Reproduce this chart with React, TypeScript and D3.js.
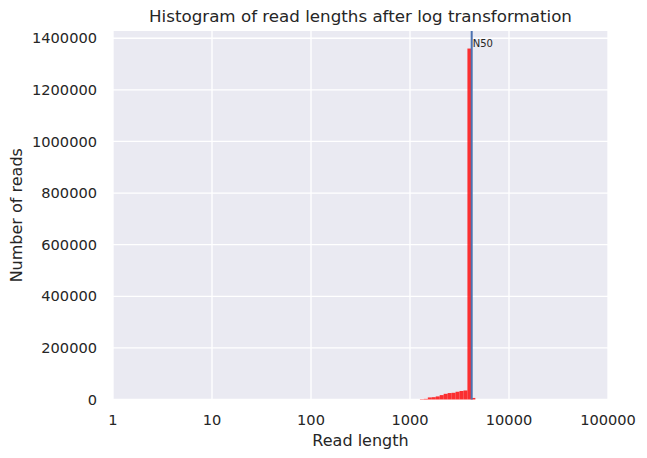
import React from "react";
import * as d3 from "d3";

const binStartsLog10 = [3.10, 3.14, 3.18, 3.22, 3.26, 3.30, 3.34, 3.38, 3.42, 3.46, 3.50, 3.54, 3.58, 3.62];
const binWidthLog10 = 0.04;
const binCounts = [1500, 2500, 8000, 9000, 12000, 17000, 22000, 25000, 26000, 30000, 33000, 35000, 1360000, 6000];
const n50Value = 4200;
const xTicks = [1, 10, 100, 1000, 10000, 100000];
const yTicks = [0, 200000, 400000, 600000, 800000, 1000000, 1200000, 1400000];

const W = 647, H = 458;
const M = { left: 113, right: 608, top: 31, bottom: 399.5 };
const FONT = "DejaVu Sans, sans-serif";
const TXT = "#262626";

export default function App() {
  const x = d3.scaleLog().domain([1, 100000]).range([M.left, M.right]);
  const yMax = d3.max(binCounts)! * 1.05;
  const y = d3.scaleLinear().domain([0, yMax]).range([M.bottom, M.top]);
  const bars = binStartsLog10.map((s, i) => ({
    x0: Math.pow(10, s),
    x1: Math.pow(10, s + binWidthLog10),
    c: binCounts[i],
  }));
  return (
    <>
      <style>{"body{margin:0}"}</style>
      <svg width={W} height={H} style={{ display: "block", background: "#fff" }}>
        <rect x={M.left} y={M.top} width={M.right - M.left} height={M.bottom - M.top} fill="#EAEAF2" />
        {yTicks.map((t) => (
          <line key={"gy" + t} x1={M.left} x2={M.right} y1={y(t)} y2={y(t)} stroke="#fff" strokeWidth={1.3} />
        ))}
        {xTicks.map((t) => (
          <line key={"gx" + t} x1={x(t)} x2={x(t)} y1={M.top} y2={M.bottom} stroke="#fff" strokeWidth={1.3} />
        ))}
        {bars.map((b, i) => (
          <rect
            key={"b" + i}
            x={x(b.x0)}
            width={x(b.x1) - x(b.x0)}
            y={y(b.c)}
            height={M.bottom - y(b.c)}
            fill="red"
            fillOpacity={0.8}
          />
        ))}
        <line x1={x(n50Value)} x2={x(n50Value)} y1={M.top} y2={M.bottom} stroke="#4C72B0" strokeWidth={2} />
        <text x={x(n50Value) + 1} y={47} fontFamily={FONT} fontSize={10} fill={TXT}>N50</text>
        {yTicks.map((t) => (
          <text key={"ty" + t} x={97} y={y(t)} dy="0.35em" textAnchor="end" fontFamily={FONT} fontSize={14.6} fill={TXT}>
            {t}
          </text>
        ))}
        {xTicks.map((t) => (
          <text key={"tx" + t} x={x(t)} y={424.5} textAnchor="middle" fontFamily={FONT} fontSize={14.6} fill={TXT}>
            {t}
          </text>
        ))}
        <text x={(M.left + M.right) / 2} y={446} textAnchor="middle" fontFamily={FONT} fontSize={16} fill={TXT}>
          Read length
        </text>
        <text
          transform={`translate(22,${(M.top + M.bottom) / 2}) rotate(-90)`}
          textAnchor="middle"
          fontFamily={FONT}
          fontSize={16}
          fill={TXT}
        >
          Number of reads
        </text>
        <text x={(M.left + M.right) / 2} y={22} textAnchor="middle" fontFamily={FONT} fontSize={16.7} fill={TXT}>
          Histogram of read lengths after log transformation
        </text>
      </svg>
    </>
  );
}
